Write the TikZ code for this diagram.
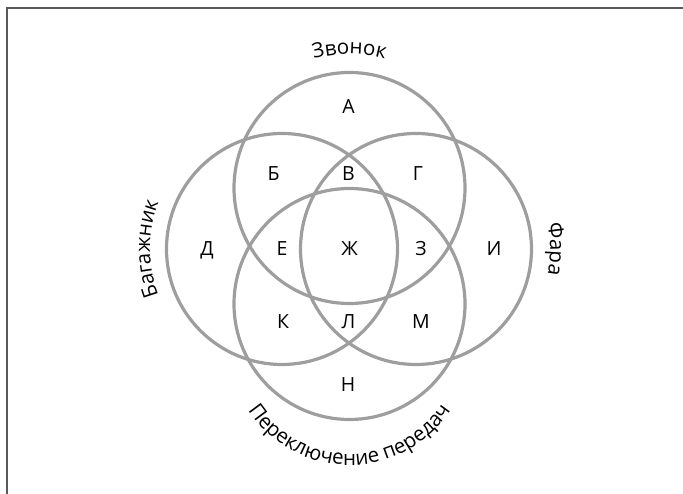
\documentclass[tikz,border=0pt]{standalone}
\usepackage{fontspec}
\setmainfont{Open Sans}
\usetikzlibrary{decorations.text,calc}
\definecolor{ring}{RGB}{158,158,158}
\definecolor{frame}{RGB}{90,90,90}
\newcommand{\lblfont}{\fontsize{20.5}{24}\selectfont}
\begin{document}
\begin{tikzpicture}[x=1pt,y=1pt,
  ring/.style={draw=ring,line width=3.2pt},
  region/.style={font=\fontsize{19.5}{22}\selectfont,anchor=base,inner sep=0pt},
  curvedlabel/.style={decorate,decoration={text along path,text align=center,text={#1}}}]
\useasboundingbox (0,0) rectangle (683,494);
\draw[frame,line width=2pt] (6.5,486) -- (6.5,-10) (5.5,486) -- (700,486);
% circles
\coordinate (ct) at (349.5,306);
\coordinate (cb) at (349.5,190);
\coordinate (cl) at (282,245);
\coordinate (cr) at (416,245);
\node[ring,circle,minimum size=231pt,inner sep=0pt] (top) at (ct) {};
\node[ring,circle,minimum size=231pt,inner sep=0pt] (bot) at (cb) {};
\node[ring,circle,minimum size=231pt,inner sep=0pt] (lft) at (cl) {};
\node[ring,circle,minimum size=231pt,inner sep=0pt] (rgt) at (cr) {};
% region letters
\node[region] (A) at (348.5,380) {А};
\node[region] (B) at (273.5,313.5) {Б};
\node[region] (V) at (348.5,313.5) {В};
\node[region] (G) at (418,313.5) {Г};
\node[region] (D) at (207,238) {Д};
\node[region] (E) at (282,238) {Е};
\node[region] (Zh) at (349.5,238) {Ж};
\node[region] (Z) at (421,238) {З};
\node[region] (I) at (494,238) {И};
\node[region] (K) at (283,165) {К};
\node[region] (L) at (348.5,165) {Л};
\node[region] (M) at (421,165) {М};
\node[region] (N) at (348,102.5) {Н};
% curved labels
\path[curvedlabel={|\lblfont|Звонок}] ($(ct)+(130:134)$) arc[start angle=130,end angle=50,radius=134];
\path[curvedlabel={|\lblfont|Багажник}] ($(cl)+(220:132)$) arc[start angle=220,end angle=140,radius=132];
\path[curvedlabel={|\lblfont|Фара}] ($(cr)+(40:134)$) arc[start angle=40,end angle=-40,radius=134];
\path[curvedlabel={|\lblfont|Переключение передач}] ($(349.5,150)+(195:121)$) arc[start angle=195,end angle=345,radius=121];
\end{tikzpicture}
\end{document}
